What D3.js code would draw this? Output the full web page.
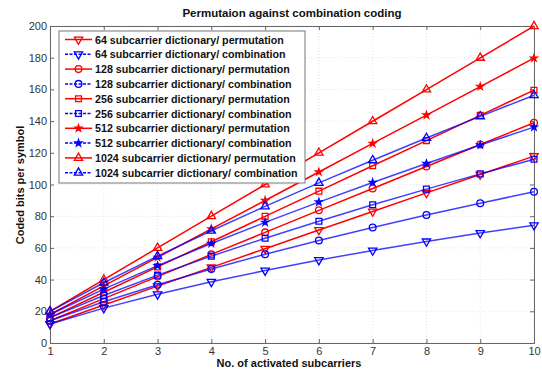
<!DOCTYPE html>
<html>
<head>
<meta charset="utf-8">
<script src="https://cdn.jsdelivr.net/npm/d3@7"></script>
<style>
  body { margin: 0; background: #fff; }
  svg { display: block; font-family: "Liberation Sans", Arial, sans-serif; }
  .tick text { fill: #333; font-size: 11px; }
</style>
</head>
<body>
<div id="chart"></div>
<script>
// number of activated subcarriers
var subcarriers = [1, 2, 3, 4, 5, 6, 7, 8, 9, 10];

// coded bits per symbol
var perm64   = [12, 24.0, 35.9, 47.7, 59.5, 71.3, 83.0, 94.7, 106.3, 117.9];
var comb64   = [12, 22.0, 30.7, 38.6, 45.7, 52.3, 58.4, 64.1, 69.4, 74.3];
var perm128  = [14, 28.0, 41.9, 55.9, 69.8, 83.7, 97.5, 111.4, 125.2, 139.0];
var comb128  = [14, 26.0, 36.8, 46.7, 56.0, 64.7, 72.9, 80.8, 88.2, 95.4];
var perm256  = [16, 32.0, 48.0, 63.9, 79.9, 95.8, 111.8, 127.7, 143.6, 159.5];
var comb256  = [16, 30.0, 42.8, 54.8, 66.1, 76.8, 87.2, 97.1, 106.7, 115.9];
var perm512  = [18, 36.0, 54.0, 72.0, 89.9, 107.9, 125.9, 143.8, 161.8, 179.7];
var comb512  = [18, 34.0, 48.8, 62.8, 76.1, 88.9, 101.3, 113.2, 124.9, 136.2];
var perm1024 = [20, 40.0, 60.0, 80.0, 100.0, 120.0, 139.9, 159.9, 179.9, 199.9];
var comb1024 = [20, 38.0, 54.8, 70.8, 86.2, 101.0, 115.3, 129.3, 143.0, 156.3];

var seriesNames = [
  "64 subcarrier dictionary/ permutation",
  "64 subcarrier dictionary/ combination",
  "128 subcarrier dictionary/ permutation",
  "128 subcarrier dictionary/ combination",
  "256 subcarrier dictionary/ permutation",
  "256 subcarrier dictionary/ combination",
  "512 subcarrier dictionary/ permutation",
  "512 subcarrier dictionary/ combination",
  "1024 subcarrier dictionary/ permutation",
  "1024 subcarrier dictionary/ combination"
];
var seriesValues = [perm64, comb64, perm128, comb128, perm256, comb256, perm512, comb512, perm1024, comb1024];
var seriesMarkers = ["tri-down", "tri-down", "circle", "circle", "square", "square", "star", "star", "tri-up", "tri-up"];

var yTicks = [0, 20, 40, 60, 80, 100, 120, 140, 160, 180, 200];

var width = 542, height = 371;
var margin = { top: 26, right: 8, bottom: 28, left: 50 };

var svg = d3.select("#chart").append("svg")
  .attr("width", width)
  .attr("height", height);

var x = d3.scaleLinear().domain([1, 10]).range([margin.left, width - margin.right]);
var y = d3.scaleLinear().domain([0, 200]).range([height - margin.bottom, margin.top]);

// grid
svg.append("g").selectAll("line.gx").data(subcarriers).enter().append("line")
  .attr("x1", function (d) { return x(d); }).attr("x2", function (d) { return x(d); })
  .attr("y1", y(0)).attr("y2", y(200))
  .attr("stroke", "#d0d0d0").attr("stroke-width", 0.6).attr("stroke-dasharray", "1,2");
svg.append("g").selectAll("line.gy").data(yTicks).enter().append("line")
  .attr("y1", function (d) { return y(d); }).attr("y2", function (d) { return y(d); })
  .attr("x1", x(1)).attr("x2", x(10))
  .attr("stroke", "#d0d0d0").attr("stroke-width", 0.6).attr("stroke-dasharray", "1,2");

// axes (ticks pointing inward, MATLAB style)
svg.append("g").attr("transform", "translate(0," + y(0) + ")")
  .call(d3.axisBottom(x).tickValues(subcarriers).tickSizeInner(-4).tickSizeOuter(0).tickPadding(4));
svg.append("g").attr("transform", "translate(" + x(1) + ",0)")
  .call(d3.axisLeft(y).tickValues(yTicks).tickSizeInner(-4).tickSizeOuter(0).tickPadding(3));
svg.append("g").attr("transform", "translate(0," + y(200) + ")")
  .call(d3.axisTop(x).tickValues(subcarriers).tickSizeInner(-4).tickSizeOuter(0).tickFormat(""));
svg.append("g").attr("transform", "translate(" + x(10) + ",0)")
  .call(d3.axisRight(y).tickValues(yTicks).tickSizeInner(-4).tickSizeOuter(0).tickFormat(""));
svg.selectAll(".domain, .tick line").attr("stroke", "#666").attr("stroke-width", 1);

// marker drawing
function marker(sel, type, color) {
  var sym = {
    "circle": d3.symbolCircle, "square": d3.symbolSquare, "star": d3.symbolStar,
    "tri-up": d3.symbolTriangle, "tri-down": d3.symbolTriangle
  }[type];
  var size = { "circle": 36, "square": 34, "star": 14, "tri-up": 30, "tri-down": 30 }[type];
  var p = sel.append("path")
    .attr("d", d3.symbol().type(sym).size(size)())
    .attr("fill", type === "star" ? color : "none")
    .attr("stroke", color).attr("stroke-width", 1.3);
  if (type === "tri-down") p.attr("transform", "rotate(180)");
  return p;
}

var line = d3.line()
  .x(function (d, i) { return x(subcarriers[i]); })
  .y(function (d) { return y(d); });

seriesValues.forEach(function (vals, k) {
  var isPerm = k % 2 === 0;
  var color = isPerm ? "#ff0000" : "#0000ff";
  var g = svg.append("g");
  g.append("path").datum(vals)
    .attr("d", line)
    .attr("fill", "none")
    .attr("stroke", color)
    .attr("stroke-opacity", isPerm ? 1 : 0.75)
    .attr("stroke-width", 1.5);
  vals.forEach(function (v, i) {
    var m = g.append("g").attr("transform", "translate(" + x(subcarriers[i]) + "," + y(v) + ")");
    marker(m, seriesMarkers[k], color);
  });
});

// legend
var lg = svg.append("g").attr("transform", "translate(59,31)");
lg.append("rect").attr("width", 246).attr("height", 152)
  .attr("fill", "#fff").attr("stroke", "#777").attr("stroke-width", 1);
seriesNames.forEach(function (name, k) {
  var isPerm = k % 2 === 0;
  var color = isPerm ? "#ff0000" : "#0000ff";
  var yy = 8.5 + k * 14.8;
  lg.append("line").attr("x1", 6).attr("x2", 33).attr("y1", yy).attr("y2", yy)
    .attr("stroke", color).attr("stroke-width", 1.5)
    .attr("stroke-dasharray", isPerm ? null : "3,1.5");
  var m = lg.append("g").attr("transform", "translate(19.5," + yy + ")");
  marker(m, seriesMarkers[k], color);
  lg.append("text").attr("x", 36).attr("y", yy + 4)
    .attr("font-size", "10.7px").attr("font-weight", "bold").attr("fill", "#111")
    .text(name);
});

// title and axis labels
svg.append("text").attr("x", 292).attr("y", 17).attr("text-anchor", "middle")
  .attr("font-size", "11.5px").attr("font-weight", "bold").attr("fill", "#111")
  .text("Permutaion against combination coding");
svg.append("text").attr("x", 289).attr("y", 367).attr("text-anchor", "middle")
  .attr("font-size", "11px").attr("font-weight", "bold").attr("fill", "#111")
  .text("No. of activated subcarriers");
svg.append("text").attr("transform", "translate(24,185) rotate(-90)").attr("text-anchor", "middle")
  .attr("font-size", "11px").attr("font-weight", "bold").attr("fill", "#111")
  .text("Coded bits per symbol");
</script>
</body>
</html>
